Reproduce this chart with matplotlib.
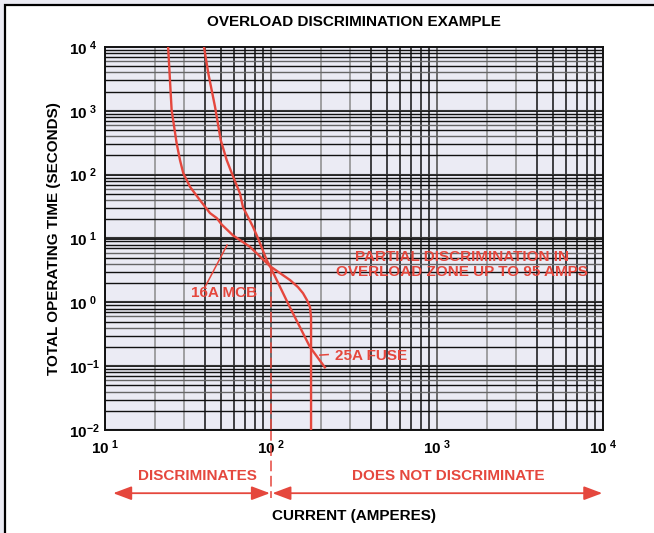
import numpy as np
import matplotlib.pyplot as plt
from matplotlib.patches import Rectangle
from matplotlib.transforms import blended_transform_factory

plt.rcParams['font.family'] = ['Liberation Sans', 'DejaVu Sans']
plt.rcParams['font.weight'] = 'bold'
plt.rcParams['mathtext.fontset'] = 'custom'
plt.rcParams['mathtext.rm'] = 'Liberation Sans:bold'
plt.rcParams['mathtext.bf'] = 'Liberation Sans:bold'

#16A MCB time-current curve (amperes, seconds)
mcb_amps = [24.0, 25.2, 27.0, 28.3, 29.6, 32.5, 37.3, 42.9, 47.1, 50.5, 59.0,
            74.7, 98.6, 113.3, 130.3, 145.4, 155.9, 164.8, 171.8, 174.3, 174.3, 174.3]
mcb_secs = [1e4, 1030, 313, 169, 106, 64.6, 40, 25, 20.9, 16.5, 11.2,
            7.4, 3.69, 2.87, 2.23, 1.73, 1.39, 1.08, 0.84, 0.586, 0.33, 0.01]

#25A fuse time-current curve
fuse_amps = [39.5, 41.9, 46.0, 49.8, 54.1, 58.0, 65.0, 67.8, 77.9, 83.5, 94.2,
             98.6, 130.3, 171.8, 211]
fuse_secs = [1e4, 3873, 1159, 348, 169, 106, 50.9, 31, 15.2, 10.1, 4.6,
             3.69, 0.826, 0.199, 0.096]

#discrimination limit
limit_amps = 100
cross_secs = 3.69

x_decades = [1, 2, 3, 4]
y_decades = [-2, -1, 0, 1, 2, 3, 4]

red = '#e5473d'
paper = '#ebebf4'


def power_label(d):
    gap = r'\ ' if d >= 0 else ''
    return r'$\mathbf{10^{%s%d}}$' % (gap, d)


fig = plt.figure(figsize=(6.54, 5.33), dpi=100)
fig.patch.set_facecolor(paper)

#white panel with black frame on the left/top edges
fig.patches.append(Rectangle((5/654, -0.05), 1.1, 1 - 5/533 + 0.05,
                             transform=fig.transFigure, facecolor='white',
                             edgecolor='black', lw=1.6, zorder=-10))

ax = fig.add_axes([105/654, 103/533, 498/654, 383/533])
ax.set_facecolor(paper)
ax.set_xscale('log')
ax.set_yscale('log')
ax.set_xlim(10**x_decades[0], 10**x_decades[-1])
ax.set_ylim(10.0**y_decades[0], 10.0**y_decades[-1])

#log paper grid
for d in x_decades[:-1]:
    ax.axvline(10**d, color='#555555', lw=1.2, zorder=1)
    for m in range(2, 10):
        c = '#8a8a8a' if m < 4 else '#111111'
        ax.axvline(m * 10**d, color=c, lw=1.1, zorder=1)
for d in y_decades[:-1]:
    ax.axhline(10.0**d, color='#111111', lw=1.3, zorder=1)
    ax.axhline(10.0**d * 1.04, color='#333333', lw=0.8, zorder=1)
    for m in range(2, 10):
        c = '#666666' if m in (4, 6) else '#111111'
        ax.axhline(m * 10.0**d, color=c, lw=1.0, zorder=1)

ax.plot(mcb_amps, mcb_secs, color=red, lw=1.7, zorder=3, solid_joinstyle='round')
ax.plot(fuse_amps, fuse_secs, color=red, lw=1.7, zorder=3, solid_joinstyle='round')

#dashed boundary at the discrimination limit
below = blended_transform_factory(ax.transData, ax.transAxes)
ax.plot([limit_amps, limit_amps], [cross_secs, 10.0**y_decades[0]],
        color=red, lw=1.1, ls=(0, (7, 3)), zorder=3)
ax.plot([limit_amps, limit_amps], [0, -0.178], transform=below,
        color=red, lw=1.1, ls=(0, (7, 3)), clip_on=False)

#zone arrows below the current axis
arrow = dict(arrowstyle='<|-|>,head_length=0.8,head_width=0.3', color=red,
             lw=1.3, mutation_scale=14, shrinkA=0, shrinkB=0)
ax.annotate('', xy=(11.2, -0.165), xytext=(limit_amps * 0.985, -0.165),
            xycoords=below, textcoords=below, arrowprops=arrow,
            annotation_clip=False)
ax.annotate('', xy=(limit_amps * 1.02, -0.165), xytext=(9.9e3, -0.165),
            xycoords=below, textcoords=below, arrowprops=arrow,
            annotation_clip=False)
ax.text(0.185, -0.12, 'DISCRIMINATES', transform=ax.transAxes, color=red,
        fontsize=11, ha='center', va='center')
ax.text(0.69, -0.12, 'DOES NOT DISCRIMINATE', transform=ax.transAxes,
        color=red, fontsize=11, ha='center', va='center')

#curve labels
ax.text(0.717, 0.432, 'PARTIAL DISCRIMINATION IN\nOVERLOAD ZONE UP TO 95 AMPS',
        transform=ax.transAxes, color=red, fontsize=11, ha='center',
        va='center', linespacing=1.15, zorder=4)
ax.plot([40.0, 54.4], [1.73, 7.9], color=red, lw=1.1, zorder=3)
ax.text(0.239, 0.358, '16A MCB', transform=ax.transAxes, color=red,
        fontsize=11, ha='center', va='center', zorder=4)
ax.plot([197, 221], [0.149, 0.152], color=red, lw=1.1, zorder=3)
ax.text(0.534, 0.192, '25A FUSE', transform=ax.transAxes, color=red,
        fontsize=11, ha='center', va='center', zorder=4)

ax.set_xticks([10**d for d in x_decades])
ax.set_xticklabels([power_label(d) for d in x_decades])
ax.set_yticks([10.0**d for d in y_decades])
ax.set_yticklabels([power_label(d) for d in y_decades])
ax.minorticks_off()
ax.tick_params(length=0, labelsize=11)
ax.tick_params(axis='x', pad=6)
#time labels line up on their left edge
ax.tick_params(axis='y', pad=26)
for lab in ax.get_yticklabels():
    lab.set_horizontalalignment('left')

for s in ax.spines.values():
    s.set_color('#111111')
    s.set_linewidth(1.4)

ax.set_xlabel('CURRENT (AMPERES)', fontsize=11, fontweight='bold')
ax.xaxis.set_label_coords(0.5, -0.205)
ax.set_ylabel('TOTAL OPERATING TIME (SECONDS)', fontsize=11,
              fontweight='bold')
ax.yaxis.set_label_coords(-0.088, 0.5)
fig.text(354/654, 1 - 22/533, 'OVERLOAD DISCRIMINATION EXAMPLE', fontsize=11,
         fontweight='bold', ha='center', va='center')

fig.savefig('out.png', dpi=100, facecolor=fig.get_facecolor())
